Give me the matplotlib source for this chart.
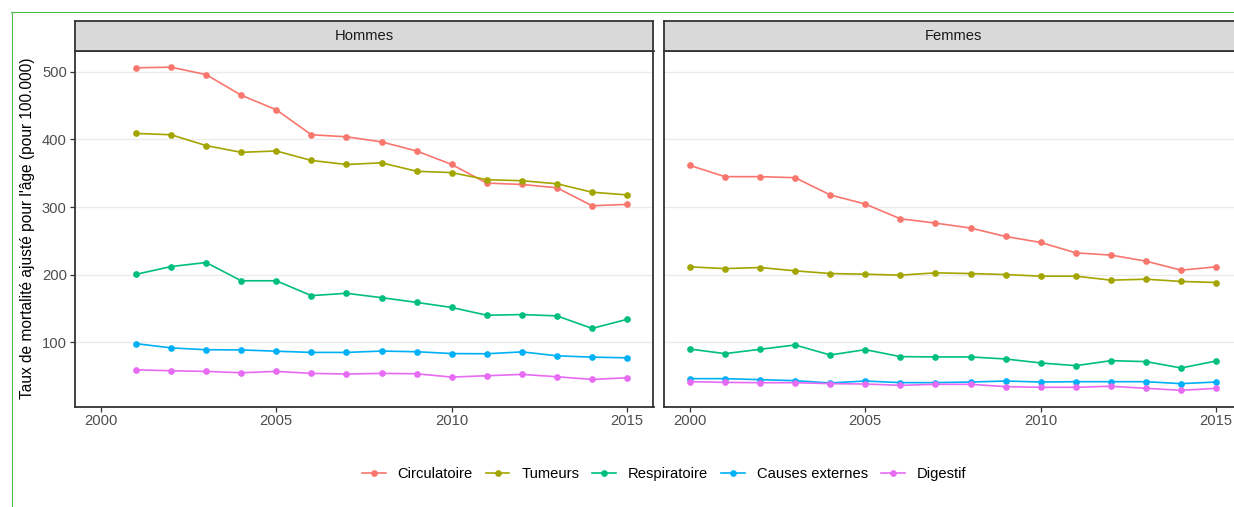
import matplotlib
matplotlib.use("Agg")
import matplotlib.pyplot as plt
from matplotlib.lines import Line2D
import numpy as np

plt.rcParams['font.family'] = ['Liberation Sans', 'DejaVu Sans']

causes = ["Circulatoire", "Tumeurs", "Respiratoire", "Causes externes", "Digestif"]
colors = ["#F8766D", "#A3A500", "#00BF7D", "#00B0F6", "#E76BF3"]

years_hommes = list(range(2001, 2016))
years_femmes = list(range(2000, 2016))

hommes_circulatoire = [506, 507, 496, 465.5, 444, 407, 404, 396.5, 383, 363, 335.5, 333.5, 328.5, 302, 304]
hommes_tumeurs = [409, 407, 391, 381, 383, 369, 363, 365.5, 353, 351, 340.5, 339, 334.5, 322, 318]
hommes_respiratoire = [200.5, 212, 218, 191, 191, 169, 172.5, 166, 159, 151.5, 140, 141, 139, 120.5, 134]
hommes_externes = [98, 91.7, 89, 88.7, 86.8, 85, 85, 87, 86, 83.3, 83, 85.8, 80, 78, 77]
hommes_digestif = [59.3, 57.8, 56.9, 54.9, 56.9, 54, 53, 54, 53.4, 48.5, 50.5, 52.5, 49, 45, 47.5]

femmes_circulatoire = [361.7, 345, 345, 343.5, 318, 304.5, 282.7, 276.3, 269, 256.5, 247.7, 232.3, 229, 220, 206.7, 211.6]
femmes_tumeurs = [211.6, 209, 210.6, 205.7, 201.7, 200.7, 199.3, 202.7, 201.7, 200.2, 197.8, 197.8, 191.9, 193.3, 190, 188.4]
femmes_respiratoire = [90, 83.2, 89.6, 96, 81.2, 89.1, 78.8, 78.3, 78.3, 75.3, 69.4, 65.4, 72.8, 71.4, 62, 72.3]
femmes_externes = [46.2, 46.2, 44.7, 43.2, 39.8, 42.7, 40.3, 40.3, 41.2, 42.7, 41.2, 41.7, 41.7, 41.7, 38.8, 41.2]
femmes_digestif = [41.7, 40.7, 40.2, 40.2, 38.8, 38.3, 36.3, 37.8, 37.8, 34.4, 33.4, 33.4, 34.9, 31.9, 28.9, 31.9]

panels = [
    ("Hommes", years_hommes, [hommes_circulatoire, hommes_tumeurs, hommes_respiratoire,
                              hommes_externes, hommes_digestif]),
    ("Femmes", years_femmes, [femmes_circulatoire, femmes_tumeurs, femmes_respiratoire,
                              femmes_externes, femmes_digestif]),
]

x_ticks = [2000, 2005, 2010, 2015]
y_ticks = [100, 200, 300, 400, 500]

W, H = 1234, 507
fig = plt.figure(figsize=(W / 100, H / 100), dpi=100)

# shared scales with ggplot-like 5% expansion
all_vals = np.concatenate([np.ravel(s) for _, _, ser in panels for s in ser])
ymin, ymax = all_vals.min(), all_vals.max()
ypad = 0.05 * (ymax - ymin)
xmin, xmax = 2000, 2015
xpad = 0.05 * (xmax - xmin)

panel_w, panel_top, panel_bot = 579, 51, 406.5
strip_top = 21
lefts = [74.5, 663.5]
dark = "#333333"
fs = 10.6

for (title, years, series), left in zip(panels, lefts):
    ax = fig.add_axes([left / W, 1 - panel_bot / H, panel_w / W, (panel_bot - panel_top) / H])
    for vals, col in zip(series, colors):
        ax.plot(years, vals, color=col, lw=1.2, marker="o", ms=3.8, mec=col, zorder=3)
    ax.set_xlim(xmin - xpad, xmax + xpad)
    ax.set_ylim(ymin - ypad, ymax + ypad)
    ax.set_xticks(x_ticks)
    ax.set_yticks(y_ticks)
    ax.grid(axis="y", color="#EBEBEB", lw=1.0, zorder=0)
    ax.set_axisbelow(True)
    for sp in ax.spines.values():
        sp.set_color(dark)
        sp.set_linewidth(1.3)
    ax.tick_params(axis="both", length=3.5, width=0.9, color=dark, labelsize=fs,
                   labelcolor="#4D4D4D", pad=2)
    if left != lefts[0]:
        ax.tick_params(axis="y", left=False, labelleft=False)
    # facet strip
    sax = fig.add_axes([left / W, 1 - panel_top / H, panel_w / W, (panel_top - strip_top) / H])
    sax.set_facecolor("#D9D9D9")
    sax.set_xticks([])
    sax.set_yticks([])
    for sp in sax.spines.values():
        sp.set_color(dark)
        sp.set_linewidth(1.3)
    sax.text(0.5, 0.5, title, ha="center", va="center", fontsize=fs, color="#1A1A1A",
             transform=sax.transAxes)

fig.text(28 / W, 1 - (panel_top + panel_bot) / 2 / H,
         "Taux de mortalité ajusté pour l'âge (pour 100.000)",
         rotation=90, ha="center", va="center", fontsize=11.2, color="black")

handles = [Line2D([], [], color=c, lw=1.2, marker="o", ms=3.8) for c in colors]
fig.legend(handles, causes, loc="center", bbox_to_anchor=(664 / W, 1 - 474 / H),
           ncol=5, frameon=False, fontsize=fs, handlelength=1.6, handletextpad=0.8,
           columnspacing=0.9)

# outer frame lines
frame_col = "#4CBB4C"
fig.add_artist(Line2D([11 / W, 1], [1 - 11.5 / H, 1 - 11.5 / H], color=frame_col, lw=0.8,
                      transform=fig.transFigure))
fig.add_artist(Line2D([11.5 / W, 11.5 / W], [0, 1 - 11.5 / H], color=frame_col, lw=0.8,
                      transform=fig.transFigure))

fig.savefig("out.png", dpi=100)
